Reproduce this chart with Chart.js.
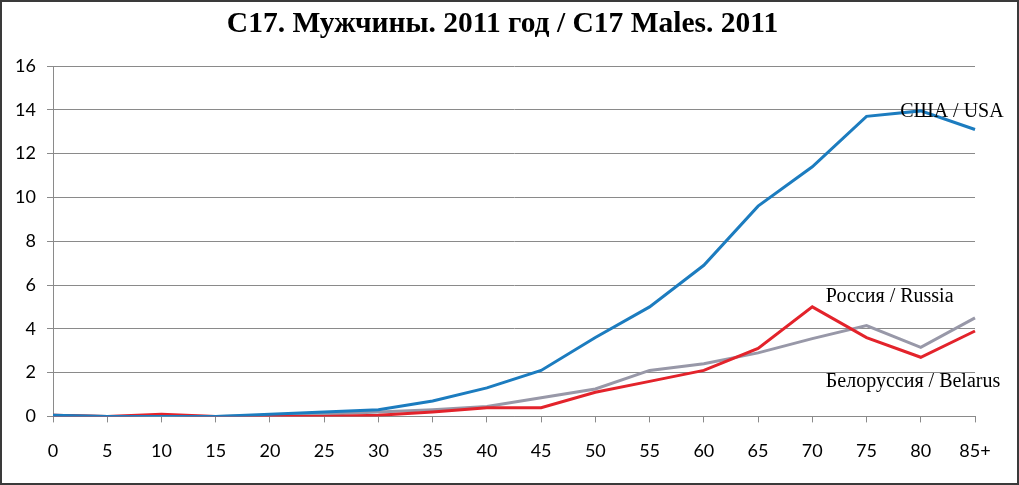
<!DOCTYPE html>
<html><head><meta charset="utf-8">
<script src="https://cdn.jsdelivr.net/npm/chart.js@4"></script>
<style>
html,body{margin:0;padding:0;background:#fff;}
#wrap{position:absolute;left:0;top:0;width:1019px;height:485px;box-sizing:border-box;border:2px solid #3a3a3a;background:#fff;}
canvas{display:block;}
</style></head><body>
<div id="wrap"><canvas id="c" width="1015" height="481"></canvas></div>
<script>
const categories = ['0','5','10','15','20','25','30','35','40','45','50','55','60','65','70','75','80','85+'];
const usa     = [0.05,0.0,0.0,0.0,0.1,0.2,0.3,0.7,1.3,2.1,3.6,5.0,6.9,9.6,11.4,13.7,13.95,13.1];
const russia  = [0.05,0.0,0.1,0.0,0.0,0.0,0.05,0.2,0.4,0.4,1.1,1.6,2.1,3.1,5.0,3.6,2.7,3.9];
const belarus = [0.05,0.0,0.02,0.0,0.05,0.1,0.2,0.3,0.45,0.85,1.25,2.1,2.4,2.9,3.55,4.15,3.15,4.5];
const yTicks  = [0,2,4,6,8,10,12,14,16];
const titleText = 'C17. Мужчины. 2011 год / C17 Males. 2011';
const seriesLabels = ['США / USA','Россия / Russia','Белоруссия / Belarus'];

const labelPlugin = {
  id:'seriesLabels',
  afterDatasetsDraw(chart){
    const {ctx, scales:{x,y}} = chart;
    ctx.save();
    ctx.fillStyle = '#000';
    ctx.textBaseline = 'middle';
    ctx.textAlign = 'center';
    ctx.font = 'bold 29.5px "Liberation Serif"';
    ctx.fillText(titleText, chart.width/2 - 7, 22);
    ctx.font = '20px "Liberation Serif"';
    ctx.textAlign = 'left';
    ctx.fillText(seriesLabels[0], x.getPixelForValue(15.62), y.getPixelForValue(13.9));
    ctx.fillText(seriesLabels[1], x.getPixelForValue(14.25), y.getPixelForValue(5.47));
    ctx.fillText(seriesLabels[2], x.getPixelForValue(14.25), y.getPixelForValue(1.6));
    ctx.restore();
  }
};

new Chart(document.getElementById('c'), {
  type:'line',
  data:{
    labels:categories,
    datasets:[
      {label:seriesLabels[0], data:usa, borderColor:'#1c7cbf', borderWidth:3, pointRadius:0, tension:0, fill:false},
      {label:seriesLabels[1], data:russia, borderColor:'#e3232b', borderWidth:3, pointRadius:0, tension:0, fill:false},
      {label:seriesLabels[2], data:belarus, borderColor:'#9898a8', borderWidth:3, pointRadius:0, tension:0, fill:false}
    ]
  },
  options:{
    responsive:false,
    animation:false,
    layout:{padding:{left:0,right:42,top:64,bottom:3}},
    plugins:{
      legend:{display:false},
      tooltip:{enabled:false},
      title:{display:false}
    },
    scales:{
      x:{
        offset:false,
        grid:{drawOnChartArea:false,drawTicks:true,tickLength:6,color:'#8a8a8a'},
        border:{color:'#8a8a8a',width:1},
        ticks:{color:'#000',font:{family:'Lato',size:18},padding:18,maxRotation:0,autoSkip:false}
      },
      y:{
        min:0,max:16,
        afterBuildTicks(s){ s.ticks = yTicks.map(v=>({value:v})); },
        afterFit(s){ s.width = 51; },
        grid:{color:'#8a8a8a',lineWidth:1,tickLength:6},
        border:{color:'#8a8a8a',width:1},
        ticks:{color:'#000',font:{family:'Lato',size:18},padding:11}
      }
    }
  },
  plugins:[labelPlugin]
});
</script>
</body></html>
